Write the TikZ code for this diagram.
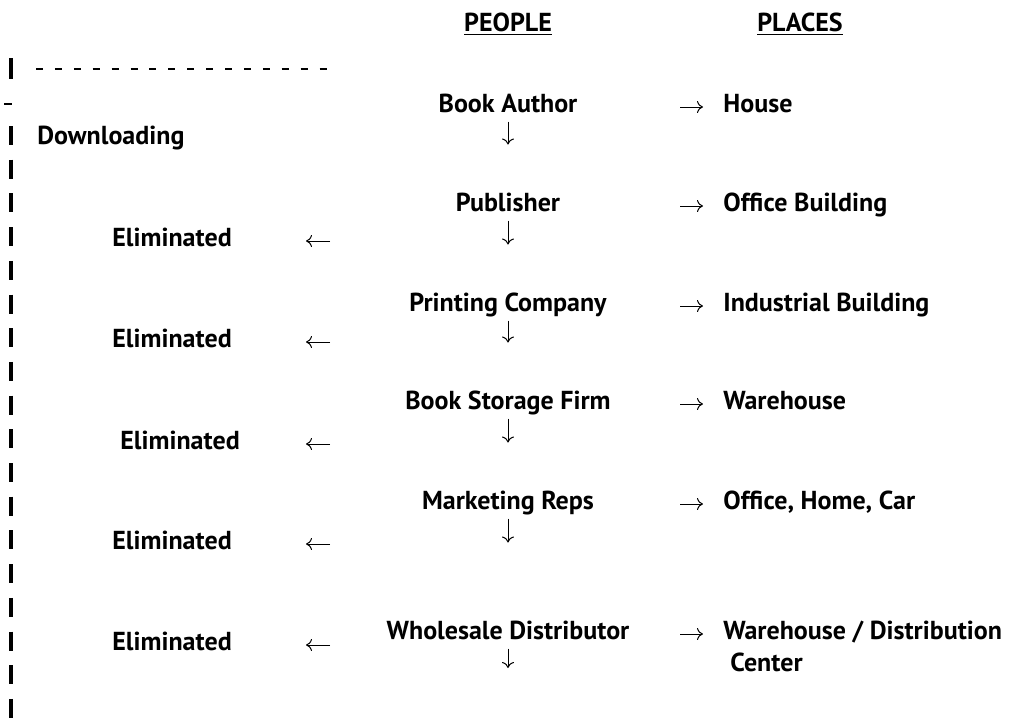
\documentclass[tikz,border=0pt]{standalone}
\usepackage{fontspec}
\setmainfont{PT Sans}
\usetikzlibrary{arrows.meta}

\begin{document}
\begin{tikzpicture}[
      x=0.5pt, y=-0.5pt,
      txt/.style={font=\fontsize{13}{16}\selectfont\bfseries, inner sep=0pt},
      who/.style={txt, anchor=base},
      where/.style={txt, anchor=base west},
      gone/.style={txt, anchor=base west},
      tip/.style={line width=0.5pt, -{Computer Modern Rightarrow[length=3pt, width=6pt]}},
      rarrow/.style={tip, shorten <=86pt, shorten >=10pt},
      larrow/.style={tip, shorten <=89pt, shorten >=97pt},
      darrow/.style={tip, shorten <=7.25pt, shorten >=30.75pt},
      pipe/.style={line width=1.6pt},
    ]
      \useasboundingbox (0,0) rectangle (1019,719);

      % column heads
      \node[who] (people) at (508,31) {\underline{PEOPLE}};
      \node[who] (places) at (800,31) {\underline{PLACES}};

      % who handles the book
      \node[who] (author) at (508,112) {Book Author};
      \node[who] (publisher) at (508,211) {Publisher};
      \node[who] (printer) at (508,311) {Printing Company};
      \node[who] (storage) at (508,409) {Book Storage Firm};
      \node[who] (reps) at (508,509) {Marketing Reps};
      \node[who] (wholesale) at (508,639) {Wholesale Distributor};
      \coordinate (wsend) at (508,668);

      % where they work
      \node[where] (house) at (723,112) {House};
      \node[where] (office) at (723,211) {Office Building};
      \node[where] (industrial) at (723,311) {Industrial Building};
      \node[where] (warehouse) at (723,409) {Warehouse};
      \node[where] (mobile) at (723,509) {Office, Home, Car};
      \node[where] (depot) at (723,639) {\begin{tabular}[t]{@{}l@{}}Warehouse / Distribution\\\hspace{3.5pt}Center\end{tabular}};

      % the download branch
      \node[gone] (download) at (37,144) {Downloading};
      \node[gone] (gone1) at (112,246) {Eliminated};
      \node[gone] (gone2) at (112,347) {Eliminated};
      \node[gone] (gone3) at (112,449) {\hspace{4pt}Eliminated};
      \node[gone] (gone4) at (112,549) {Eliminated};
      \node[gone] (gone5) at (112,650) {Eliminated};

      \draw[rarrow] (author.mid) -- (house.mid west);
      \draw[rarrow] (publisher.mid) -- (office.mid west);
      \draw[rarrow] (printer.mid) -- (industrial.mid west);
      \draw[rarrow] (storage.mid) -- (warehouse.mid west);
      \draw[rarrow] (reps.mid) -- (mobile.mid west);
      \draw[rarrow] (wholesale.mid) -- (depot.mid west);

      \draw[darrow] (author.mid) -- (publisher.mid);
      \draw[darrow] (publisher.mid) -- (printer.mid);
      \draw[darrow] (printer.mid) -- (storage.mid);
      \draw[darrow] (storage.mid) -- (reps.mid);
      \draw[darrow, shorten >=45.75pt] (reps.mid) -- (wholesale.mid);
      \draw[darrow, shorten >=0pt] (wholesale.mid) -- (wsend);

      \draw[larrow] (publisher.mid |- gone1.mid west) -- (gone1.mid west);
      \draw[larrow] (printer.mid |- gone2.mid west) -- (gone2.mid west);
      \draw[larrow] (storage.mid |- gone3.mid west) -- (gone3.mid west);
      \draw[larrow] (reps.mid |- gone4.mid west) -- (gone4.mid west);
      \draw[larrow] (wholesale.mid |- gone5.mid west) -- (gone5.mid west);

      % dashed bracket down the left side
      \draw[pipe] (11,58) -- (11,79);
      \draw[line width=1.4pt, dash pattern=on 3.5pt off 5.95pt] (36,69) -- (327,69);
      \draw[line width=1.4pt] (4,104) -- (12,104);
      \draw[pipe, dash pattern=on 9.5pt off 7.35pt] (11,126) -- (11,719);
    \end{tikzpicture}
\end{document}
